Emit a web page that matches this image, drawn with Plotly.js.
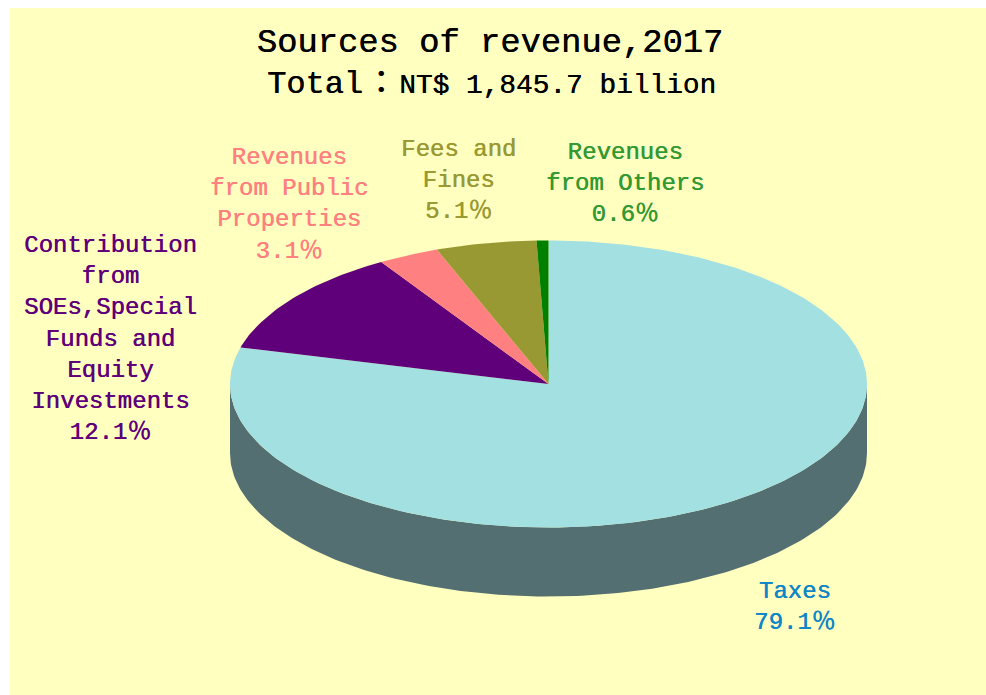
<!DOCTYPE html>
<html>
<head>
<meta charset="utf-8">
<script src="https://cdn.plot.ly/plotly-3.0.1.min.js"></script>
<style>html,body{margin:0;padding:0;background:#fff}</style>
</head>
<body>
<div id="chart" style="width:986px;height:695px"></div>
<script>
const categories = ["Taxes", "Contribution from SOEs, Special Funds and Equity Investments", "Revenues from Public Properties", "Fees and Fines", "Revenues from Others"];
const labelLines = ["Taxes", "Contribution<br>from<br>SOEs,Special<br>Funds and<br>Equity<br>Investments", "Revenues<br>from Public<br>Properties", "Fees and<br>Fines", "Revenues<br>from Others"];
const shares = [79.1, 12.1, 3.1, 5.1, 0.6];
const sliceColors = ["#A2E0E2", "#5F007A", "#FF8080", "#999933", "#008000"];
const labelColors = ["#0F86C6", "#5F007A", "#FF8080", "#999933", "#339933"];
const sideColor = "#536F71";
const panelColor = "#FFFFC0";
const titleText = "Sources of revenue,2017";
const gap = "<span style=\"font-size:3.4px\">\u00A0</span>";
const subtitleText = "Total" + gap + "：" + gap + "<span style=\"font-size:27.8px\">NT$ 1,845.7 billion</span>";

const cx = 548.5, cy = 384, rx = 318.5, ry = 143.5, depth = 69;
const labelPos = [[794.5, 607], [110, 339], [289, 204], [458.5, 180.5], [625, 183]];
const FONT = '"Liberation Mono", "Noto Sans CJK TC", monospace';

function pt(deg, dy) {
  const a = deg * Math.PI / 180;
  return [cx + rx * Math.sin(a), cy - ry * Math.cos(a) + dy];
}
const traces = [];

// extruded side wall
const sx = [], sy = [];
for (let d = 90; d <= 270; d += 1) { const p = pt(d, 0); sx.push(p[0]); sy.push(p[1]); }
for (let d = 270; d >= 90; d -= 1) { const p = pt(d, depth); sx.push(p[0]); sy.push(p[1]); }
traces.push({type: "scatter", mode: "lines", x: sx, y: sy, fill: "toself", fillcolor: sideColor,
  line: {width: 0, color: sideColor}, hoverinfo: "skip", showlegend: false});

// top face, clockwise from 12 o'clock
const total = shares.reduce((a, b) => a + b, 0);
let start = 0;
shares.forEach((v, i) => {
  const end = start + v / total * 360;
  const xs = [cx], ys = [cy];
  const n = Math.max(2, Math.ceil(end - start));
  for (let k = 0; k <= n; k++) {
    const p = pt(start + (end - start) * k / n, 0);
    xs.push(p[0]); ys.push(p[1]);
  }
  xs.push(cx); ys.push(cy);
  traces.push({type: "scatter", mode: "lines", x: xs, y: ys, fill: "toself", fillcolor: sliceColors[i],
    line: {width: 0, color: sliceColors[i]}, name: categories[i],
    text: categories[i] + ": " + v.toFixed(1) + "%", hoverinfo: "text", showlegend: false});
  start = end;
});

const annotations = shares.map((v, i) => ({
  xref: "x", yref: "y", x: labelPos[i][0], y: labelPos[i][1], xanchor: "center", yanchor: "middle",
  showarrow: false, align: "center",
  text: labelLines[i] + "<br>" + v.toFixed(1) + "％",
  font: {family: FONT, size: 24, color: labelColors[i], shadow: "0.5px 0 0 " + labelColors[i]}
}));
annotations.push({xref: "x", yref: "y", x: 491.5, y: 84.5, xanchor: "center", yanchor: "middle",
  showarrow: false, text: subtitleText, font: {family: FONT, size: 32, color: "#000", shadow: "0.4px 0 0 #000"}});

const layout = {
  width: 986, height: 695,
  margin: {l: 10, r: 0, t: 8, b: 0, pad: 0},
  paper_bgcolor: "#ffffff", plot_bgcolor: panelColor,
  title: {text: titleText, font: {family: FONT, size: 33.8, color: "#000", shadow: "0.4px 0 0 #000"},
    x: 490 / 986, xanchor: "center", y: 1 - 40 / 695, yanchor: "middle"},
  xaxis: {range: [10, 986], visible: false, fixedrange: true},
  yaxis: {range: [695, 8], visible: false, fixedrange: true},
  annotations: annotations,
  showlegend: false
};
Plotly.newPlot("chart", traces, layout, {displayModeBar: false, responsive: false});
</script>
</body>
</html>
